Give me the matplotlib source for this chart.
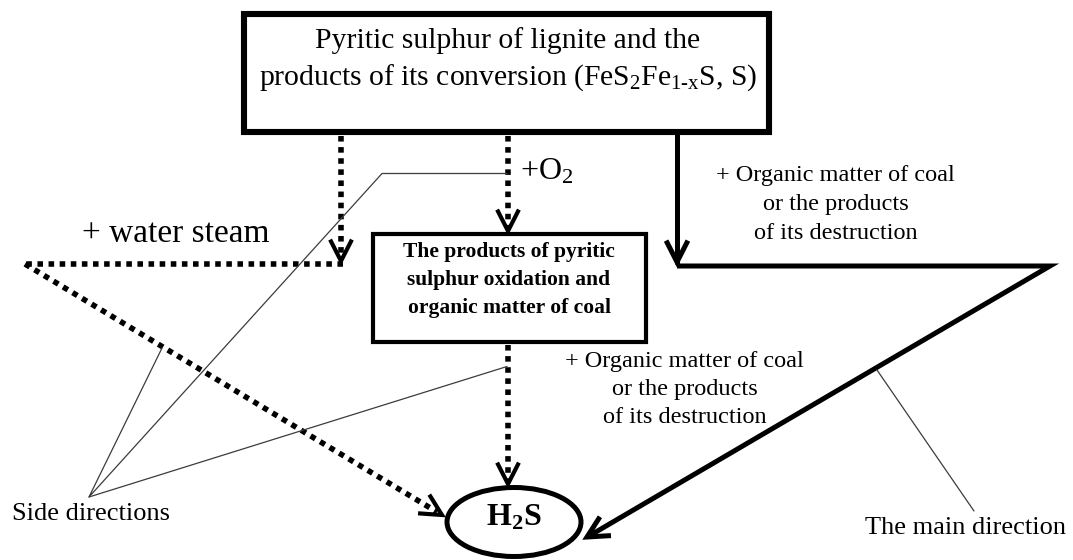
import matplotlib
matplotlib.use('Agg')
import matplotlib.pyplot as plt
from matplotlib.patches import Rectangle, Ellipse
import numpy as np

plt.rcParams['font.family'] = ['Liberation Serif', 'DejaVu Serif']
plt.rcParams['mathtext.fontset'] = 'custom'
plt.rcParams['mathtext.rm'] = 'Liberation Serif'
plt.rcParams['mathtext.it'] = 'Liberation Serif:italic'
plt.rcParams['mathtext.bf'] = 'Liberation Serif:bold'

# ---- texts ----
top_box_lines = ["Pyritic sulphur of lignite and the",
                 r"products of its conversion (FeS$_2$Fe$_{\text{1-x}}$S, S)"]
mid_box_lines = ["The products of pyritic",
                 "sulphur oxidation and",
                 "organic matter of coal"]
organic_lines = ["+ Organic matter of coal", "or the products", "of its destruction"]
water_label = "+ water steam"
oxygen_label = r"+O$_2$"
side_label = "Side directions"
main_label = "The main direction"
product_label = r"H$_\mathbf{2}$S"

# ---- layout (pixel coordinates, y downward) ----
W, H = 1073, 560
top_box = [244, 14, 768.5, 131.5]      # x0, y0, x1, y1
mid_box = [372.7, 233.7, 646, 342]
ell_center = [514, 522]
ell_size = [134, 69]

fig = plt.figure(figsize=(W / 100, H / 100), dpi=100)
ax = fig.add_axes([0, 0, 1, 1])
ax.set_xlim(0, W)
ax.set_ylim(H, 0)
ax.axis('off')

DOT = dict(color='black', lw=4.0, linestyle=(0, (1, 1)), dash_capstyle='butt')
THIN = dict(color='#3c3c3c', lw=0.9, solid_capstyle='round')


def chevron(tip, direction, length=24, half=27, lw=3.4):
    d = np.asarray(direction, float)
    d = d / np.linalg.norm(d)
    back = -d
    pts = []
    for s in (1, -1):
        a = np.deg2rad(s * half)
        R = np.array([[np.cos(a), -np.sin(a)], [np.sin(a), np.cos(a)]])
        pts.append(np.asarray(tip) + R @ back * length)
    xs = [pts[0][0], tip[0], pts[1][0]]
    ys = [pts[0][1], tip[1], pts[1][1]]
    ax.plot(xs, ys, color='black', lw=lw, solid_joinstyle='miter',
            solid_capstyle='butt')


# ---- boxes ----
ax.add_patch(Rectangle((top_box[0], top_box[1]), top_box[2] - top_box[0],
                       top_box[3] - top_box[1], fill=False, lw=4.4,
                       ec='black', joinstyle='miter'))
ax.add_patch(Rectangle((mid_box[0], mid_box[1]), mid_box[2] - mid_box[0],
                       mid_box[3] - mid_box[1], fill=False, lw=3.0,
                       ec='black', joinstyle='miter'))
ax.add_patch(Ellipse(ell_center, ell_size[0], ell_size[1], fill=False,
                     lw=3.6, ec='black'))

# ---- texts ----
for txt, yb in zip(top_box_lines, [48, 85]):
    ax.text(508, yb, txt, ha='center', va='baseline', fontsize=21.3)
for txt, yb in zip(mid_box_lines, [257, 285, 313]):
    ax.text(509, yb, txt, ha='center', va='baseline', fontsize=15.5,
            fontweight='bold')
for txt, yb in zip(organic_lines, [181, 210, 239]):
    ax.text(835.5, yb, txt, ha='center', va='baseline', fontsize=17.5)
for txt, yb in zip(organic_lines, [367, 395, 423]):
    ax.text(684.5, yb, txt, ha='center', va='baseline', fontsize=17.5)
ax.text(82, 242, water_label, ha='left', va='baseline', fontsize=24)
ax.text(520, 180, oxygen_label, ha='left', va='baseline', fontsize=23)
ax.text(12, 520, side_label, ha='left', va='baseline', fontsize=19)
ax.text(865, 534, main_label, ha='left', va='baseline', fontsize=19)
ax.text(514, 526, product_label, ha='center', va='baseline', fontsize=23,
        fontweight='bold')

# ---- side (dotted) routes ----
# left: down from top box, to the corner, then diagonal to H2S
ax.plot([341, 341], [136, 258], **DOT)
chevron((341, 261), (0, 1), lw=3.0)
ax.plot([343, 25], [264, 264], **DOT)
ax.plot([25, 437], [264, 512], **DOT)
chevron((442, 515), (417, 251), lw=3.0)
# middle: top box -> mid box -> H2S
ax.plot([508, 508], [136, 228], **DOT)
chevron((508, 231), (0, 1), lw=3.0)
ax.plot([508, 508], [345, 480], **DOT)
chevron((508, 484), (0, 1), lw=3.0)

# ---- main (solid) route ----
ax.plot([677, 677], [134, 264], color='black', lw=3.6, solid_capstyle='butt')
chevron((677, 262), (0, 1), lw=3.6)
ax.plot([677, 1050, 589], [266, 266, 536], color='black', lw=3.6,
        solid_joinstyle='miter', solid_capstyle='butt')
chevron((587, 537), (-463, 271), lw=3.6)

# ---- leader lines ----
conv = (89, 497)
ax.plot([507, 382, conv[0], 162], [173.5, 173.5, conv[1], 348], **THIN)
ax.plot([conv[0], 507], [conv[1], 366.5], **THIN)
ax.plot([877, 974], [370, 511], **THIN)

fig.savefig('out.png', dpi=100)
